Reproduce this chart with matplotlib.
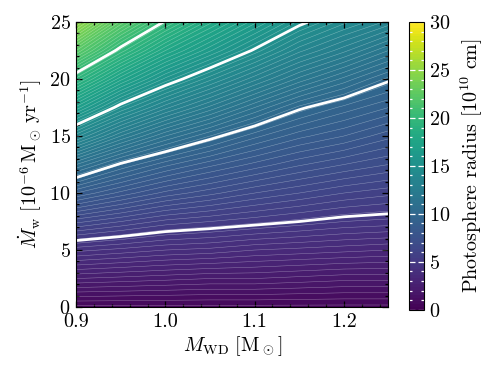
import numpy as np
import matplotlib
matplotlib.use("Agg")
import matplotlib.pyplot as plt
from matplotlib.ticker import MultipleLocator, FuncFormatter

plt.rcParams['font.family'] = 'serif'
plt.rcParams['font.serif'] = ['cmr10', 'DejaVu Serif']
plt.rcParams['mathtext.fontset'] = 'cm'
plt.rcParams['axes.formatter.use_mathtext'] = True
plt.rcParams['font.size'] = 14.5

# White-dwarf masses (columns) and wind mass-loss rates (rows)
m_wd = [0.90, 0.95, 1.00, 1.05, 1.10, 1.15, 1.20, 1.25]
mdot_w = [0.0, 2.5, 5.0, 7.5, 10.0, 12.5, 15.0, 17.5, 20.0, 22.5, 25.0]

# Photosphere radius [1e10 cm], one list per mdot row
r_00 = [0.5, 0.5, 0.5, 0.5, 0.5, 0.5, 0.5, 0.5]
r_02 = [2.4, 2.3, 2.2, 2.1, 2.1, 2.0, 1.9, 1.9]
r_05 = [4.3, 4.1, 3.9, 3.8, 3.6, 3.5, 3.4, 3.3]
r_07 = [6.4, 6.0, 5.6, 5.4, 5.2, 5.0, 4.8, 4.7]
r_10 = [8.7, 8.0, 7.4, 7.0, 6.6, 6.3, 6.0, 5.8]
r_12 = [11.1, 9.9, 9.1, 8.5, 8.0, 7.55, 7.2, 6.9]
r_15 = [13.9, 12.3, 11.1, 10.2, 9.4, 8.8, 8.4, 7.9]
r_17 = [16.7, 14.7, 13.3, 12.2, 11.1, 10.1, 9.5, 9.0]
r_20 = [19.4, 17.2, 15.5, 14.2, 13.0, 11.9, 11.0, 10.1]
r_22 = [22.2, 19.7, 17.7, 16.25, 14.9, 13.6, 12.7, 11.7]
r_25 = [25.0, 22.1, 19.9, 18.1, 16.6, 15.2, 14.2, 13.4]

radius = np.array([r_00, r_02, r_05, r_07, r_10, r_12, r_15, r_17, r_20, r_22, r_25])
highlight_levels = [5, 10, 15, 20]

fig = plt.figure(figsize=(4.98, 3.80), dpi=100)
ax = fig.add_axes([0.153, 0.192, 0.627, 0.750])
cax = fig.add_axes([0.821, 0.185, 0.030, 0.757])

levels = np.linspace(0, 30, 101)
X, Y = np.meshgrid(m_wd, mdot_w)
cf = ax.contourf(X, Y, radius, levels=levels, cmap='viridis', vmin=0, vmax=30)
ax.contour(X, Y, radius, levels=levels, colors='white', linewidths=0.35, alpha=0.4)
ax.contour(X, Y, radius, levels=highlight_levels, colors='white', linewidths=2.0)

ax.set_xlim(0.9, 1.25)
ax.set_ylim(0, 25)
ax.xaxis.set_major_locator(MultipleLocator(0.1))
ax.xaxis.set_minor_locator(MultipleLocator(0.02))
ax.yaxis.set_major_locator(MultipleLocator(5))
ax.yaxis.set_minor_locator(MultipleLocator(1))
ax.tick_params(which='both', direction='in', top=True, right=True, width=0.9)
ax.tick_params(which='major', length=4.5, pad=4)
ax.tick_params(which='minor', length=2.5)
ax.xaxis.set_major_formatter(FuncFormatter(lambda v, p: f"{v:.1f}"))
ax.set_xlabel(r'$M_{\rm WD}\ [{\rm M}_\odot]$', labelpad=3)
ax.set_ylabel(r'$\dot{M}_{\rm w}\ [10^{-6}\,{\rm M}_\odot\,{\rm yr}^{-1}]$', labelpad=4)

cb = fig.colorbar(cf, cax=cax, ticks=[0, 5, 10, 15, 20, 25, 30])
cb.ax.yaxis.set_minor_locator(MultipleLocator(1))
cb.ax.tick_params(which='both', direction='in', color='white', left=True, right=True, width=0.9)
cb.ax.tick_params(which='major', length=4)
cb.ax.tick_params(which='minor', length=2)
cb.set_label(r'Photosphere radius $[10^{10}\ {\rm cm}]$', labelpad=6)

fig.savefig('out.png', dpi=100)
